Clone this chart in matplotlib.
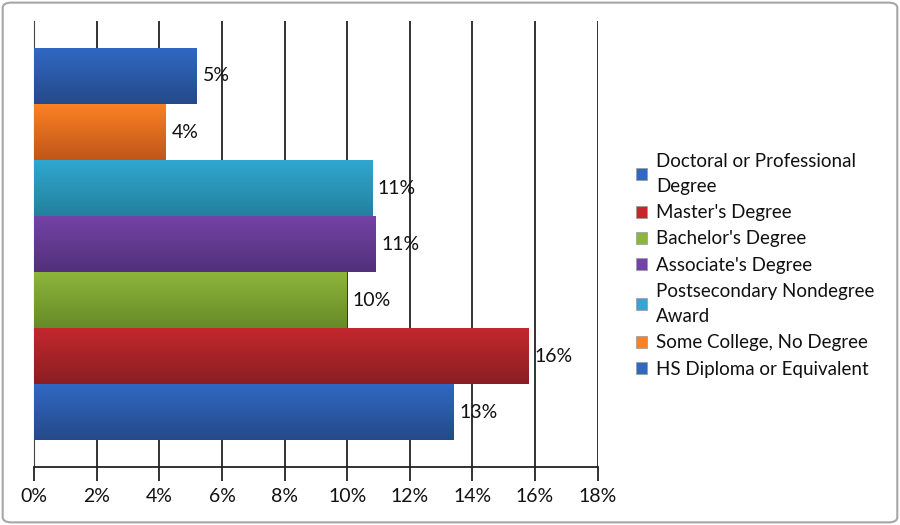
import matplotlib.pyplot as plt
import numpy as np
from matplotlib.patches import Patch, FancyBboxPatch
from matplotlib.colors import LinearSegmentedColormap
from matplotlib.ticker import FuncFormatter

# bottom to top
categories = ["Doctoral or Professional\nDegree", "Master's Degree", "Bachelor's Degree",
              "Associate's Degree", "Postsecondary Nondegree\nAward",
              "Some College, No Degree", "HS Diploma or Equivalent"]
values = [13.4, 15.8, 10.0, 10.9, 10.8, 4.2, 5.2]
labels = ["13%", "16%", "10%", "11%", "11%", "4%", "5%"]
tops = ["#3068c4", "#c4282d", "#8db63c", "#7443a6", "#30a8d0", "#fb8224", "#3068c4"]
bottoms = ["#254a88", "#8a1e22", "#678a28", "#52307a", "#24809e", "#c0561a", "#254a88"]
xticks = np.arange(0, 19, 2)

plt.rcParams['font.family'] = ['Lato', 'DejaVu Sans']
fs = 14

fig = plt.figure(figsize=(9, 5.25), dpi=100)
ax = fig.add_axes([0.038, 0.11, 0.626, 0.85])

y = np.arange(len(values))
bars = ax.barh(y, values, height=1.0, color=tops, edgecolor='none', zorder=3)

grad = np.linspace(0, 1, 64).reshape(-1, 1)
for b, c0, c1 in zip(bars, tops, bottoms):
    cmap = LinearSegmentedColormap.from_list('g', [c1, c0])
    x0, y0, w, h = b.get_x(), b.get_y(), b.get_width(), b.get_height()
    im = ax.imshow(grad, cmap=cmap, aspect='auto', origin='lower',
                   extent=[x0, x0 + w, y0, y0 + h], zorder=4)
    im.set_clip_path(b)

for yi, v, t in zip(y, values, labels):
    ax.text(v + 0.18, yi, t, va='center', ha='left', fontsize=fs, color='#111111', zorder=5)

ax.set_xlim(0, 18)
ax.set_ylim(-0.98, 6.98)
ax.set_xticks(xticks)
ax.xaxis.set_major_formatter(FuncFormatter(lambda v, p: f"{int(v)}%"))
ax.set_yticks([])
ax.grid(axis='x', color='#222222', linewidth=1.3, zorder=0)
ax.set_axisbelow(True)
for s in ['top', 'right']:
    ax.spines[s].set_visible(False)
ax.spines['left'].set_color('#444444')
ax.spines['bottom'].set_color('#222222')
ax.spines['bottom'].set_linewidth(1.3)
ax.tick_params(axis='x', direction='out', length=10, width=1.3, color='#222222',
               labelsize=fs, pad=5, labelcolor='#111111')

handles = [Patch(facecolor=c, edgecolor='#999999', linewidth=0.5) for c in tops]
leg = fig.legend(handles, categories, loc='upper left', bbox_to_anchor=(0.696, 0.727),
                 frameon=False, fontsize=13.5, handlelength=0.6, handleheight=0.6,
                 handletextpad=0.5, labelspacing=0.49, borderpad=0)
for t in leg.get_texts():
    t.set_linespacing(1.6)
    t.set_color('#111111')

fig.patches.append(FancyBboxPatch((0.003, 0.005), 0.994, 0.99, boxstyle='round,pad=0,rounding_size=0.01',
                                  transform=fig.transFigure, facecolor='none',
                                  edgecolor='#a6a6a6', linewidth=1.5))

fig.savefig('out.png', dpi=100)
